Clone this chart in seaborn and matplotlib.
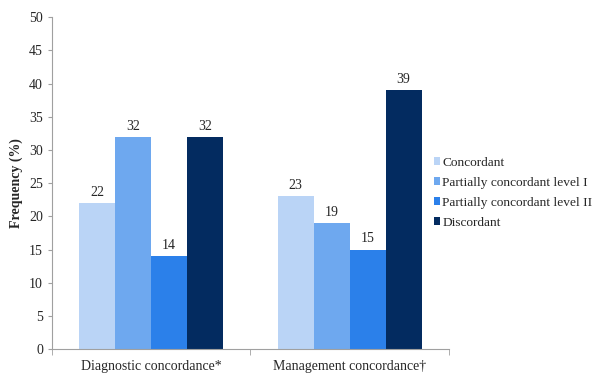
import matplotlib
matplotlib.use("Agg")
import matplotlib.pyplot as plt
import numpy as np
import pandas as pd
import seaborn as sns

# Data
groups = ["Diagnostic concordance*", "Management concordance\u2020"]
levels = ["Concordant", "Partially concordant level I",
          "Partially concordant level II", "Discordant"]
concordant = [22, 23]
partial_1 = [32, 19]
partial_2 = [14, 15]
discordant = [32, 39]
colors = ["#bad4f6", "#6ea8ef", "#2b80ea", "#032b60"]

df = pd.DataFrame({
    "group": groups * 4,
    "level": np.repeat(levels, len(groups)),
    "value": concordant + partial_1 + partial_2 + discordant,
})

sns.set_style("white")
plt.rcParams["font.family"] = ["Liberation Serif", "DejaVu Serif"]

fig = plt.figure(figsize=(5.97, 3.73), dpi=100)
ax = fig.add_axes([0.087, 0.064, 0.665, 0.89])

sns.barplot(data=df, x="group", y="value", hue="level", order=groups,
            hue_order=levels, palette=colors, width=0.725, saturation=1,
            linewidth=0, ax=ax)

for cont in ax.containers:
    ax.bar_label(cont, fmt="%d", padding=3, fontsize=10)

ax.set_ylim(0, 50)
ax.set_yticks(range(0, 51, 5))
ax.set_xlim(-0.5, 1.5)
ax.set_xlabel("")
ax.set_ylabel("Frequency (%)", fontsize=10, fontweight="bold")
ax.tick_params(axis="y", labelsize=10, length=3, color="#a0a0a0", left=True)
ax.tick_params(axis="x", which="major", length=0, labelsize=10, pad=8)
ax.set_xticks([-0.5, 0.5, 1.5], minor=True)
ax.tick_params(axis="x", which="minor", length=4, color="#a0a0a0", bottom=True)

for s in ["top", "right"]:
    ax.spines[s].set_visible(False)
for s in ["left", "bottom"]:
    ax.spines[s].set_color("#a0a0a0")
    ax.spines[s].set_linewidth(0.8)

leg = ax.legend(loc="center left", bbox_to_anchor=(0.963, 0.471), frameon=False,
                fontsize=9.6, handlelength=0.45, handleheight=0.45,
                handletextpad=0.15, labelspacing=0.6, borderaxespad=0,
                borderpad=0)

fig.savefig("out.png", dpi=100)
